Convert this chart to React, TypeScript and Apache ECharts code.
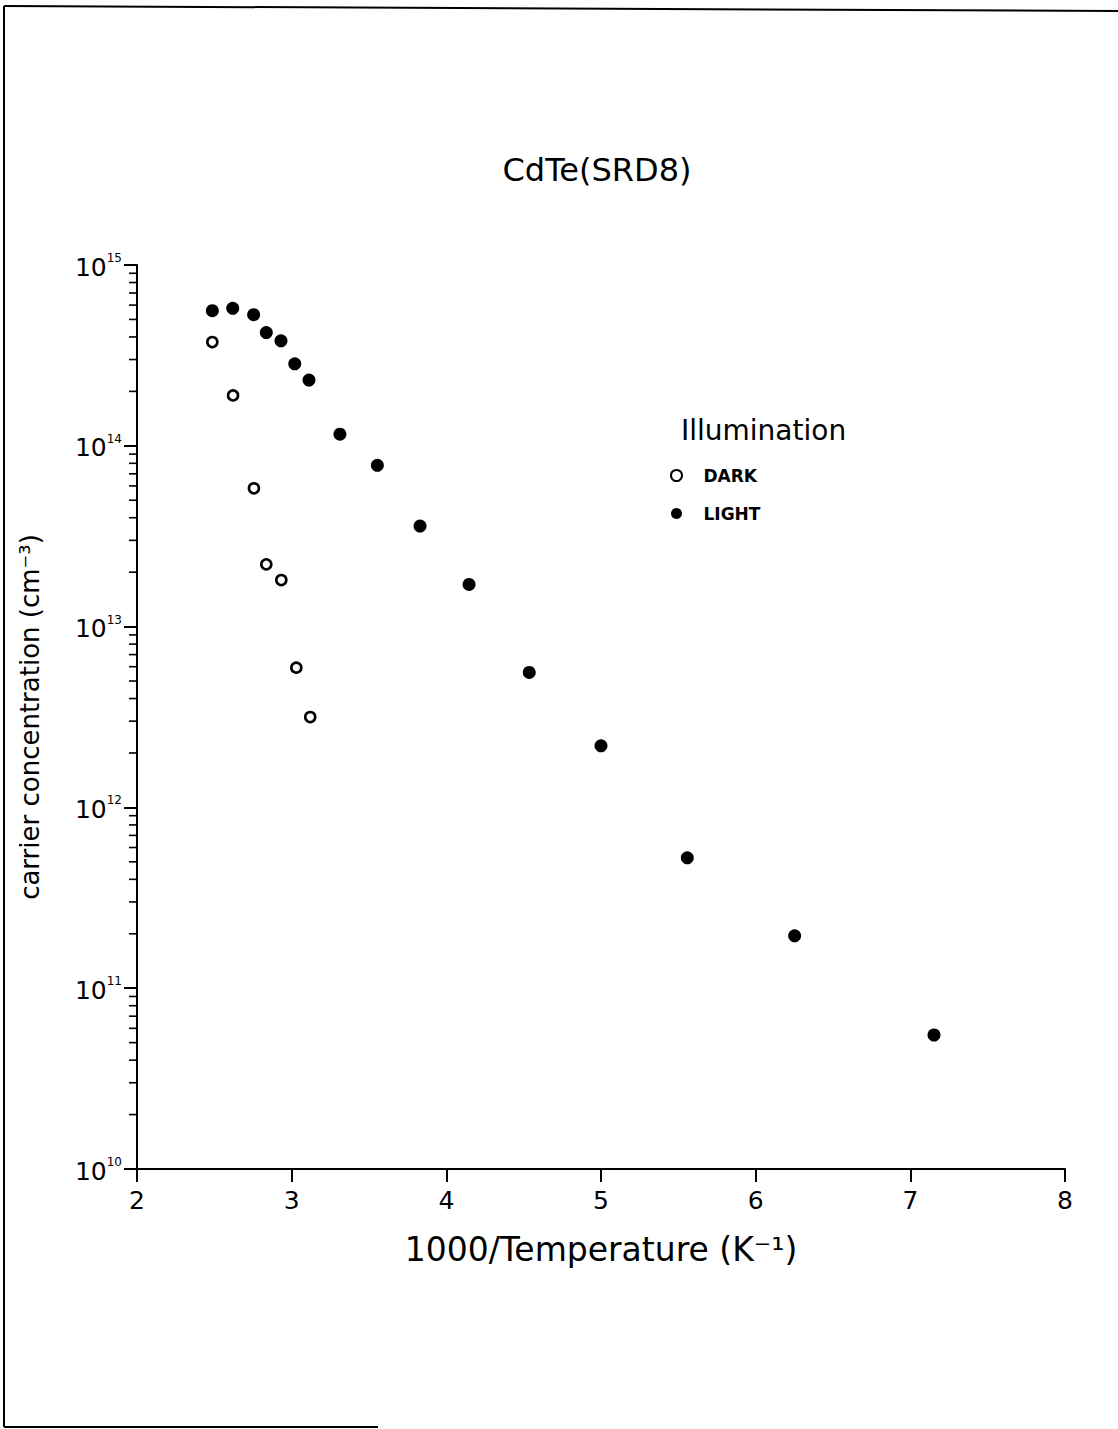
import React, { useEffect, useRef } from "react";
import * as echarts from "echarts";

// 1000/T (K^-1) and carrier concentration (cm^-3)
const darkX = [2.487, 2.621, 2.756, 2.836, 2.933, 3.03, 3.12];
const darkY = [3.75e14, 1.9e14, 5.82e13, 2.21e13, 1.81e13, 5.93e12, 3.16e12];
const lightX = [2.487, 2.619, 2.754, 2.836, 2.931, 3.02, 3.112, 3.312, 3.554, 3.83, 4.147, 4.536, 5.0, 5.558, 6.252, 7.153];
const lightY = [5.59e14, 5.76e14, 5.31e14, 4.23e14, 3.81e14, 2.84e14, 2.31e14, 1.16e14, 7.8e13, 3.6e13, 1.71e13, 5.58e12, 2.19e12, 5.26e11, 1.95e11, 5.51e10];
const xTicks = [2, 3, 4, 5, 6, 7, 8];
const yDecades = [10, 11, 12, 13, 14, 15];
const minorMultipliers = [2, 3, 4, 5, 6, 7, 8, 9];

const TITLE = "CdTe(SRD8)";
const X_NAME = "1000/Temperature (K⁻¹)";
const Y_NAME = "carrier concentration (cm⁻³)";
const LEGEND_TITLE = "Illumination";
const SERIES_NAMES = ["DARK", "LIGHT"];

const FONT = "DejaVu Sans";

const minorTickValues: number[] = [];
yDecades.slice(0, -1).forEach((d) => {
  minorMultipliers.forEach((m) => minorTickValues.push(m * Math.pow(10, d)));
});

const option: any = {
  animation: false,
  backgroundColor: "#fff",
  grid: { left: 137, right: 53, top: 265, bottom: 260, containLabel: false },
  xAxis: {
    type: "value",
    min: xTicks[0],
    max: xTicks[xTicks.length - 1],
    interval: 1,
    axisLine: { show: true, onZero: false, lineStyle: { color: "#000", width: 2 } },
    axisTick: { show: true, length: 13, lineStyle: { color: "#000", width: 2 } },
    axisLabel: { color: "#000", fontSize: 25, fontFamily: FONT, margin: 19 },
    splitLine: { show: false },
    name: X_NAME,
    nameLocation: "middle",
    nameGap: 64,
    nameTextStyle: { color: "#000", fontSize: 33, fontFamily: FONT },
  },
  yAxis: {
    type: "log",
    logBase: 10,
    min: Math.pow(10, yDecades[0]),
    max: Math.pow(10, yDecades[yDecades.length - 1]),
    axisLine: { show: true, onZero: false, lineStyle: { color: "#000", width: 2 } },
    axisTick: { show: true, length: 13, lineStyle: { color: "#000", width: 2 } },
    minorTick: { show: false },
    splitLine: { show: false },
    axisLabel: {
      margin: 15,
      formatter: (v: number) => `{b|10}{s|${Math.round(Math.log10(v))}}`,
      rich: {
        b: { fontSize: 25, fontFamily: FONT, color: "#000", lineHeight: 26, padding: [4, 0, 0, 0] },
        s: { fontSize: 12, fontFamily: FONT, color: "#000", lineHeight: 12, verticalAlign: "top" },
      },
    },
    name: Y_NAME,
    nameLocation: "middle",
    nameGap: 94,
    nameTextStyle: { color: "#000", fontSize: 26, fontFamily: FONT },
  },
  legend: {
    orient: "vertical",
    left: 665,
    top: 462,
    itemWidth: 44,
    itemHeight: 11,
    itemGap: 21,
    selectedMode: false,
    textStyle: { fontFamily: FONT, fontSize: 17, fontWeight: "bold", color: "#000" },
    data: [
      { name: SERIES_NAMES[0], icon: "circle", itemStyle: { color: "#fff", borderColor: "#000", borderWidth: 2, opacity: 1 } },
      { name: SERIES_NAMES[1], icon: "circle", itemStyle: { color: "#000", borderWidth: 0, opacity: 1 } },
    ],
  },
  graphic: [
    {
      type: "text",
      x: 597,
      y: 170,
      style: { text: TITLE, fill: "#000", font: `normal 32px '${FONT}'`, textAlign: "center", textVerticalAlign: "middle" },
    },
    {
      type: "text",
      x: 681,
      y: 430,
      style: { text: LEGEND_TITLE, fill: "#000", font: `normal 28px '${FONT}'`, textAlign: "left", textVerticalAlign: "middle" },
    },
    { type: "line", shape: { x1: 4, y1: 6, x2: 4, y2: 1427 }, style: { stroke: "#000", lineWidth: 2 } },
    { type: "line", shape: { x1: 4, y1: 6, x2: 1118, y2: 11 }, style: { stroke: "#000", lineWidth: 2 } },
    { type: "line", shape: { x1: 4, y1: 1427, x2: 378, y2: 1427 }, style: { stroke: "#000", lineWidth: 2 } },
  ],
  series: [
    {
      name: SERIES_NAMES[0],
      type: "scatter",
      symbol: "circle",
      symbolSize: 10,
      itemStyle: { color: "#fff", borderColor: "#000", borderWidth: 2.6, opacity: 1 },
      data: darkX.map((x, i) => [x, darkY[i]]),
      z: 3,
    },
    {
      name: SERIES_NAMES[1],
      type: "scatter",
      symbol: "circle",
      symbolSize: 13,
      itemStyle: { color: "#000", opacity: 1 },
      data: lightX.map((x, i) => [x, lightY[i]]),
      z: 3,
    },
    {
      name: "minorTicks",
      type: "custom",
      silent: true,
      clip: false,
      z: 5,
      encode: { x: 0, y: 1 },
      data: minorTickValues.map((v) => [xTicks[0], v]),
      renderItem: (_params: any, api: any) => {
        const p = api.coord([api.value(0), api.value(1)]);
        return {
          type: "line",
          shape: { x1: p[0] - 8, y1: p[1], x2: p[0], y2: p[1] },
          style: { stroke: "#000", lineWidth: 1.6 },
        };
      },
    },
  ],
};

export default function App() {
  const ref = useRef<HTMLDivElement>(null);
  useEffect(() => {
    const chart = echarts.init(ref.current!, null, { renderer: "svg" });
    chart.setOption(option);
    return () => chart.dispose();
  }, []);
  return (
    <div
      ref={ref}
      style={{ position: "absolute", left: 0, top: 0, width: 1118, height: 1429, background: "#fff" }}
    />
  );
}
